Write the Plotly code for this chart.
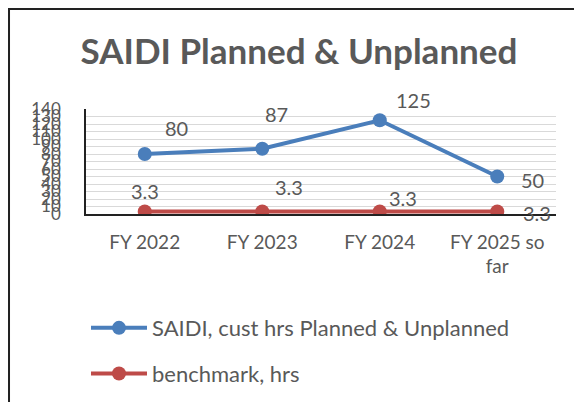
import plotly.graph_objects as go

categories = ["FY 2022", "FY 2023", "FY 2024", "FY 2025 so<br>far"]
saidi = [80, 87, 125, 50]
benchmark = [3.3, 3.3, 3.3, 3.3]
saidi_name = "SAIDI, cust hrs Planned & Unplanned"
bench_name = "benchmark, hrs"
y_ticks = list(range(0, 141, 10))

BLUE = "#4A7EBB"
RED = "#BE4B48"
TXT = "#595959"
FONT = "Lato"

fig = go.Figure()
fig.add_trace(go.Scatter(x=categories, y=saidi, name=saidi_name, mode="lines+markers", legendgroup="a",
                         line=dict(color=BLUE, width=4), marker=dict(size=14, color=BLUE)))
fig.add_trace(go.Scatter(x=categories, y=benchmark, name=bench_name, mode="lines+markers", legendgroup="b",
                         line=dict(color=RED, width=4), marker=dict(size=14, color=RED)))

# data labels (Excel-like placement offsets, in pixels)
s_off = [(32, 26), (14, 35), (34, 20), (35, -3)]
b_off = [(0, 21), (27, 25), (23, 14), (40, -1)]
for c, v, (dx, dy) in zip(categories, saidi, s_off):
    fig.add_annotation(x=c, y=v, text=str(v), showarrow=False, xshift=dx, yshift=dy,
                       font=dict(family=FONT, size=20, color=TXT))
for c, v, (dx, dy) in zip(categories, benchmark, b_off):
    fig.add_annotation(x=c, y=v, text=str(v), showarrow=False, xshift=dx, yshift=dy,
                       font=dict(family=FONT, size=20, color=TXT))

fig.add_shape(type="rect", xref="paper", yref="paper", x0=-0.1638, x1=1.2, y0=-2.5, y1=1.952,
              line=dict(color="#222222", width=2), layer="above")

fig.update_layout(
    width=582, height=402,
    margin=dict(l=78, r=34, t=101, b=196, autoexpand=False),
    paper_bgcolor="white", plot_bgcolor="white",
    title=dict(text="<b>SAIDI Planned & Unplanned</b>", xref="container", x=0.5, xanchor="center",
               yref="container", y=0.8905, yanchor="middle",
               font=dict(family=FONT, size=35, color=TXT)),
    xaxis=dict(type="category", showgrid=False, showline=True, linecolor="#222222", linewidth=1.5,
               ticks="", tickfont=dict(family=FONT, size=19, color=TXT), range=[-0.5, 3.5],
               ticklabelstandoff=10, automargin=False),
    yaxis=dict(range=[0, 140], tickvals=y_ticks, showgrid=True, gridcolor="#D9D9D9", gridwidth=1,
               showline=True, linecolor="#222222", linewidth=1.5, ticks="", zeroline=False,
               ticklabelstandoff=20, automargin=False,
               tickfont=dict(family=FONT, size=17, color=TXT)),
    legend=dict(x=0.0, y=-0.886, xanchor="left", yanchor="top", orientation="v",
                font=dict(family=FONT, size=22, color=TXT), tracegroupgap=14, itemwidth=56),
    showlegend=True,
)
fig.write_html("out.html")
